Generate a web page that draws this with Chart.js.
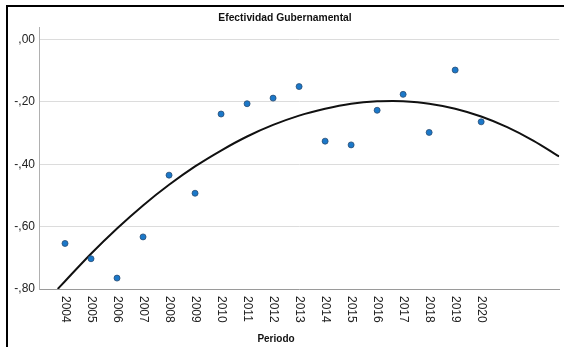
<!DOCTYPE html>
<html>
<head>
<meta charset="utf-8">
<script src="https://cdn.jsdelivr.net/npm/chart.js@4/dist/chart.umd.min.js"></script>
<style>
  html, body { margin: 0; padding: 0; background: #fff; }
  #wrap { position: relative; width: 564px; height: 347px; overflow: hidden; }
  #frame { position: absolute; left: 6px; top: 5px; width: 600px; height: 400px;
           border-left: 2px solid #000; border-top: 2px solid #000; pointer-events: none; }
  canvas { position: absolute; left: 0; top: 0; }
</style>
</head>
<body>
<div id="wrap">
  <canvas id="c" width="564" height="347"></canvas>
  <div id="frame"></div>
</div>
<script>
// ---- data ----
const years = [2004, 2005, 2006, 2007, 2008, 2009, 2010, 2011, 2012, 2013, 2014, 2015, 2016, 2017, 2018, 2019, 2020];
const effectiveness = [-0.654, -0.703, -0.765, -0.633, -0.435, -0.493, -0.239, -0.206, -0.188, -0.151, -0.326, -0.338, -0.227, -0.176, -0.298, -0.098, -0.264];
// fitted curve
const fitYears  = [2003.72, 2004, 2005, 2006, 2007, 2008, 2009, 2010, 2011, 2012, 2013, 2014, 2015, 2016, 2016.6, 2017, 2018, 2019, 2020, 2021, 2022, 2023];
const fitValues = [-0.800, -0.775, -0.687, -0.606, -0.532, -0.466, -0.407, -0.356, -0.311, -0.274, -0.244, -0.222, -0.206, -0.198, -0.197, -0.198, -0.206, -0.222, -0.247, -0.281, -0.324, -0.375];
const yTickValues = [-0.8, -0.6, -0.4, -0.2, 0.0];
const chartTitle = 'Efectividad Gubernamental';
const xTitle = 'Periodo';

function fmt(v) {
  const a = Math.round(Math.abs(v) * 100);
  return (v < -1e-9 ? '-' : '') + ',' + String(a).padStart(2, '0');
}

const textPlugin = {
  id: 'texts',
  afterDraw(chart) {
    const ctx = chart.ctx;
    const xs = chart.scales.x;
    ctx.save();
    ctx.fillStyle = '#222';
    ctx.font = '12px "Liberation Sans", Arial, sans-serif';
    ctx.textAlign = 'left';
    ctx.textBaseline = 'middle';
    years.forEach(y => {
      const px = xs.getPixelForValue(y);
      ctx.save();
      ctx.translate(px, xs.top + 7);
      ctx.rotate(Math.PI / 2);
      ctx.fillText(String(y), 0, 0);
      ctx.restore();
    });
    ctx.fillStyle = '#111';
    ctx.font = 'bold 10.3px "Liberation Sans", Arial, sans-serif';
    ctx.textAlign = 'center';
    ctx.fillText(chartTitle, 285, 18);
    ctx.font = 'bold 10px "Liberation Sans", Arial, sans-serif';
    ctx.fillText(xTitle, 276, 339);
    ctx.restore();
  }
};

new Chart(document.getElementById('c'), {
  data: {
    datasets: [
      {
        type: 'line',
        data: fitYears.map((x, i) => ({ x: x, y: fitValues[i] })),
        borderColor: '#111',
        borderWidth: 2,
        pointRadius: 0,
        fill: false,
        cubicInterpolationMode: 'monotone',
        order: 2
      },
      {
        type: 'scatter',
        data: years.map((x, i) => ({ x: x, y: effectiveness[i] })),
        backgroundColor: '#1b78c9',
        borderColor: '#2a4d73',
        borderWidth: 0.8,
        pointRadius: 3,
        order: 1
      }
    ]
  },
  options: {
    responsive: false,
    animation: false,
    devicePixelRatio: 1,
    layout: { padding: { left: 0, right: 4, top: 27, bottom: 0 } },
    plugins: { legend: { display: false }, tooltip: { enabled: false }, title: { display: false } },
    scales: {
      x: {
        type: 'linear',
        min: 2003, max: 2023,
        grid: { display: false, drawTicks: false },
        border: { display: true, color: '#9a9a9a', width: 1 },
        ticks: { display: false },
        afterFit(s) { s.height = 58; }
      },
      y: {
        type: 'linear',
        min: -0.8, max: 0.04,
        afterBuildTicks(s) { s.ticks = yTickValues.map(v => ({ value: v })); },
        grid: { color: '#dcdcdc', lineWidth: 1, drawTicks: false },
        border: { display: true, color: '#b0b0b0', width: 1 },
        ticks: {
          padding: 4,
          color: '#222',
          font: { family: '"Liberation Sans", Arial, sans-serif', size: 12 },
          callback: v => fmt(v)
        },
        afterFit(s) { s.width = 39; }
      }
    }
  },
  plugins: [textPlugin]
});
</script>
</body>
</html>
